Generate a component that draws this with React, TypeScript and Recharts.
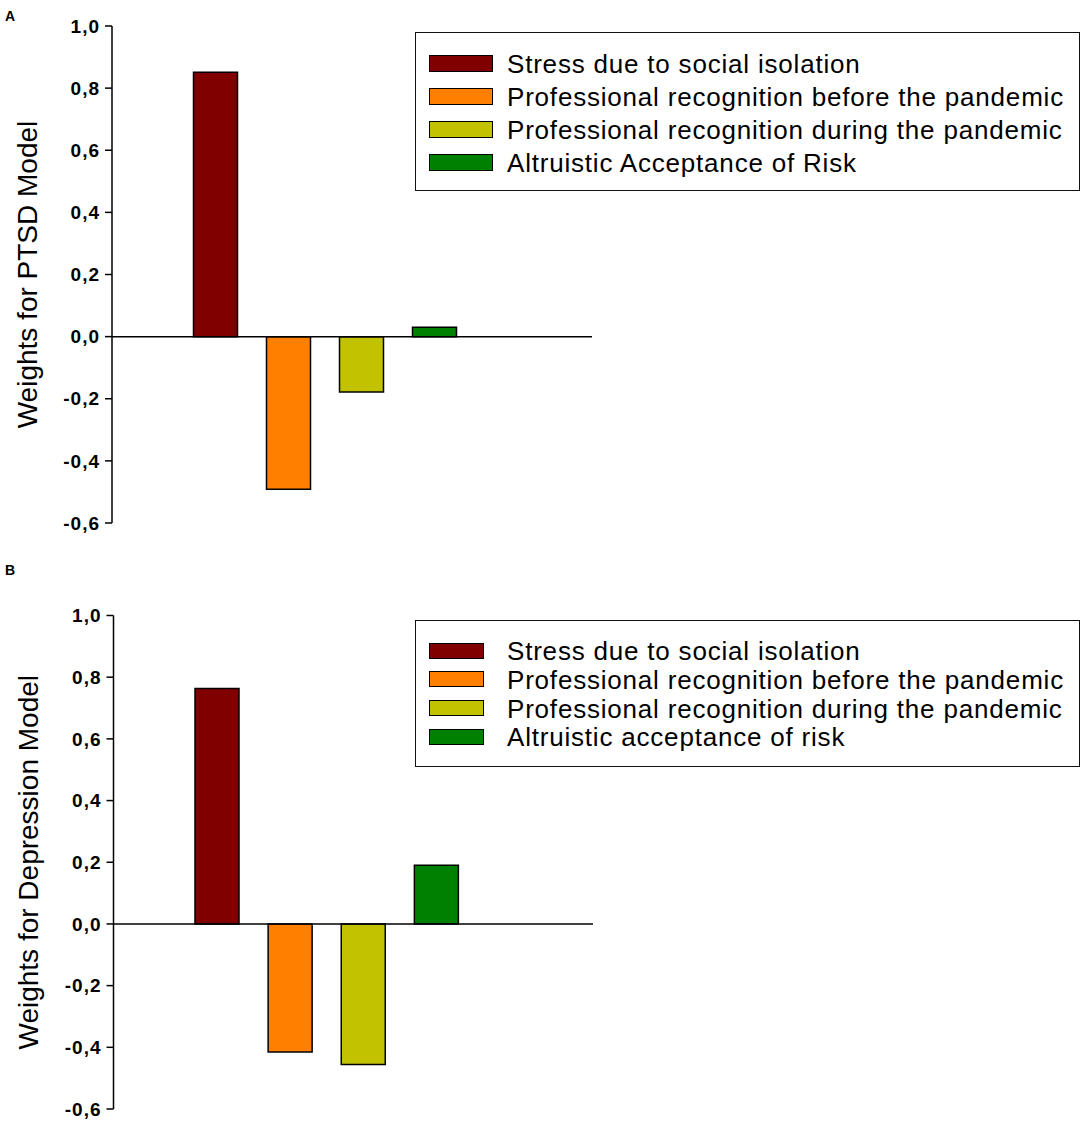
import { BarChart, Bar, XAxis, YAxis, Cell, ReferenceLine, Legend } from 'recharts'

const factorsPtsd = [
  'Stress due to social isolation',
  'Professional recognition before the pandemic',
  'Professional recognition during the pandemic',
  'Altruistic Acceptance of Risk',
]
const factorsDepression = [
  'Stress due to social isolation',
  'Professional recognition before the pandemic',
  'Professional recognition during the pandemic',
  'Altruistic acceptance of risk',
]
const barColors = ['#800000', '#ff8000', '#c2c200', '#008000']
const ptsdWeights = [0.851, -0.491, -0.178, 0.03]
const depressionWeights = [0.763, -0.415, -0.456, 0.19]
const yTicks = [-0.6, -0.4, -0.2, 0, 0.2, 0.4, 0.6, 0.8, 1.0]

const FONT = '"Liberation Sans", Arial, Helvetica, sans-serif'

const fmt = (v: number) => v.toFixed(1).replace('.', ',')

interface LegendBoxProps {
  labels: string[]
  swatchW: number
  swatchH: number
  firstRow: number
  rowGap: number
}

function LegendBox({ labels, swatchW, swatchH, firstRow, rowGap }: LegendBoxProps) {
  return (
    <div
      style={{
        position: 'relative',
        width: '100%',
        height: '100%',
        boxSizing: 'border-box',
        border: '1.5px solid #111',
        background: '#fff',
        fontFamily: FONT,
      }}
    >
      {labels.map((lab, i) => {
        const cy = firstRow + i * rowGap
        return (
          <div key={lab}>
            <div
              style={{
                position: 'absolute',
                left: 13,
                top: cy - swatchH / 2 - 1.5,
                width: swatchW,
                height: swatchH,
                background: barColors[i],
                border: '1.5px solid #000',
              }}
            />
            <div
              style={{
                position: 'absolute',
                left: 91,
                top: cy - 15,
                height: 30,
                lineHeight: '30px',
                fontSize: 26,
                letterSpacing: 0.8,
                color: '#000',
                whiteSpace: 'nowrap',
              }}
            >
              {lab}
            </div>
          </div>
        )
      })}
    </div>
  )
}

interface PanelProps {
  letter: string
  title: string
  labels: string[]
  values: number[]
  top: number
  height: number
  margin: { top: number; right: number; left: number; bottom: number }
  axisW: number
  pad: { left: number; right: number }
  legendTop: number
  legendH: number
  swatchW: number
  swatchH: number
  firstRow: number
  rowGap: number
}

function Panel(p: PanelProps) {
  const data = p.labels.map((name, i) => ({ name, weight: p.values[i] }))
  return (
    <div style={{ position: 'absolute', left: 0, top: p.top, width: 1084, height: p.height }}>
      <BarChart width={1084} height={p.height} data={data} margin={p.margin}>
        <XAxis dataKey="name" type="category" hide padding={p.pad} />
        <YAxis
          type="number"
          domain={[-0.6, 1.0]}
          ticks={yTicks}
          width={p.axisW}
          allowDataOverflow
          tickFormatter={fmt}
          tickSize={7}
          tickMargin={5}
          axisLine={{ stroke: '#000', strokeWidth: 1.5 }}
          tickLine={{ stroke: '#000', strokeWidth: 1.5 }}
          tick={{ fill: '#000', fontSize: 19, fontWeight: 'bold', fontFamily: FONT, letterSpacing: 1 }}
          label={{
            value: p.title,
            angle: -90,
            position: 'insideLeft',
            offset: 27,
            style: { textAnchor: 'middle', fontSize: 28, fill: '#000', fontFamily: FONT },
          }}
        />
        <ReferenceLine y={0} stroke="#000" strokeWidth={1.5} />
        <Bar dataKey="weight" barSize={44} stroke="#000" strokeWidth={1.5} isAnimationActive={false}>
          {data.map((d, i) => (
            <Cell key={d.name} fill={barColors[i]} />
          ))}
        </Bar>
        <Legend
          verticalAlign="middle"
          align="center"
          wrapperStyle={{ position: 'absolute', left: 415, top: p.legendTop, width: 665, height: p.legendH }}
          content={() => (
            <LegendBox
              labels={p.labels}
              swatchW={p.swatchW}
              swatchH={p.swatchH}
              firstRow={p.firstRow}
              rowGap={p.rowGap}
            />
          )}
        />
      </BarChart>
      <div
        style={{
          position: 'absolute',
          left: 5,
          top: p.letter === 'A' ? 8 : -26,
          fontFamily: FONT,
          fontWeight: 'bold',
          fontSize: 14,
          color: '#000',
        }}
      >
        {p.letter}
      </div>
    </div>
  )
}

export default function App() {
  return (
    <div
      style={{
        position: 'absolute',
        left: 0,
        top: 0,
        width: 1084,
        height: 1124,
        background: '#fff',
        overflow: 'hidden',
      }}
    >
      <Panel
        letter="A"
        title="Weights for PTSD Model"
        labels={factorsPtsd}
        values={ptsdWeights}
        top={0}
        height={560}
        margin={{ top: 26, right: 492, left: 0, bottom: 37 }}
        axisW={112}
        pad={{ left: 66.5, right: 121.5 }}
        legendTop={32}
        legendH={159}
        swatchW={62}
        swatchH={15}
        firstRow={30.5}
        rowGap={33}
      />
      <Panel
        letter="B"
        title="Weights for Depression Model"
        labels={factorsDepression}
        values={depressionWeights}
        top={588}
        height={536}
        margin={{ top: 27.5, right: 491, left: 1.5, bottom: 15 }}
        axisW={112}
        pad={{ left: 66.5, right: 120.5 }}
        legendTop={32}
        legendH={147}
        swatchW={53}
        swatchH={14}
        firstRow={30}
        rowGap={28.8}
      />
    </div>
  )
}
